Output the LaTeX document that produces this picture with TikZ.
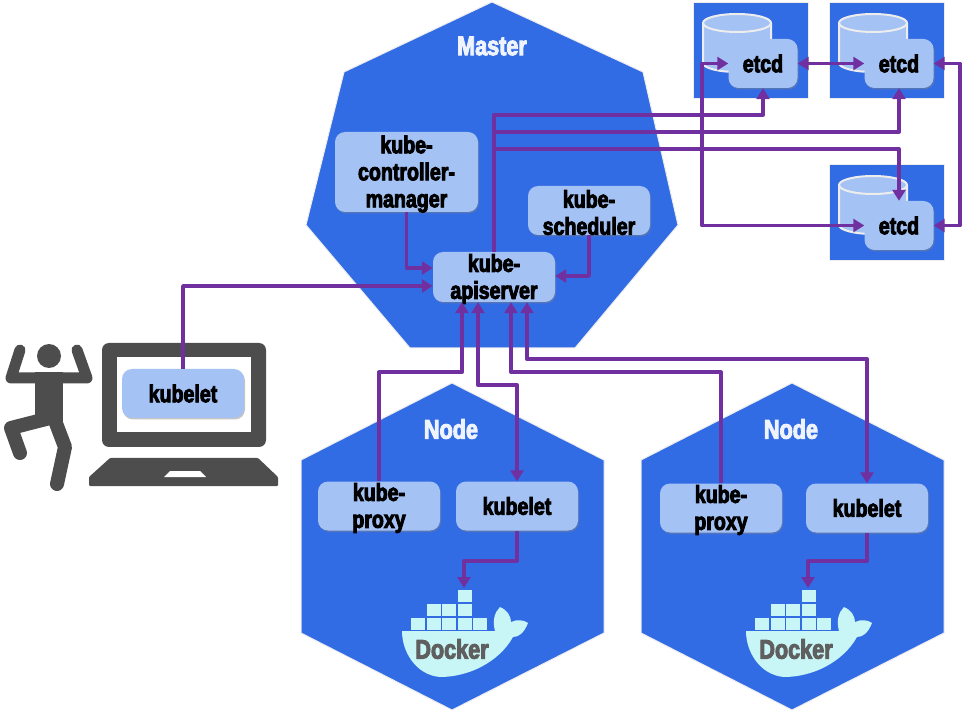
\documentclass[tikz,border=0pt]{standalone}
\usepackage{fontspec}
\usetikzlibrary{arrows.meta,shadows}
\setmainfont{Liberation Sans}[BoldFeatures={FakeStretch=0.8,FakeBold=3.5}]
\definecolor{kubeBlue}{HTML}{326CE5}
\definecolor{boxBlue}{HTML}{A4C2F4}
\definecolor{linkPurple}{HTML}{7030A0}
\definecolor{figGray}{HTML}{4D4D4D}
\definecolor{whaleCyan}{HTML}{C8F5F5}
\tikzset{
  area/.style={fill=kubeBlue,draw=white!93!black,line width=1pt},
  compbox/.style={fill=boxBlue,rounded corners=10pt,minimum width=122pt,minimum height=49pt,inner sep=0pt,
    drop shadow={opacity=.45,shadow xshift=1pt,shadow yshift=-1.5pt}},
  compname/.style={font=\fontsize{24.5}{27}\selectfont\bfseries,align=center,inner sep=0pt},
  multiname/.style={compname,yshift=-2pt},
  areaname/.style={font=\fontsize{27}{28}\selectfont\bfseries,text=white!92!kubeBlue,inner sep=0pt},
  link/.style={draw=linkPurple,line width=3.8pt,line join=round,arrows={-Triangle[length=11pt,width=13pt]}},
  bilink/.style={link,arrows={Triangle[length=11pt,width=13pt]-Triangle[length=11pt,width=13pt]}},
  limb/.style={draw=figGray,line width=11pt,line cap=round,line join=round},
  docker/.pic={
    % Baleine
    \fill[whaleCyan] (-62,41) -- (31,41) .. controls (28,30) and (31,22) .. (36,17)
      .. controls (43,20) and (47,26) .. (47,32) .. controls (53,29) and (60,30) .. (64,33)
      .. controls (60,43) and (55,47) .. (49,47) .. controls (35,72) and (5,87) .. (-24,87)
      .. controls (-48,85) and (-62,62) .. (-62,41) -- cycle;
    % Conteneurs
    \foreach \bx/\by in {-6/0,-37/14,-22/14,-6/14,-53/28,-37/28,-22/28,-6/28,9/28}
      \fill[whaleCyan] (\bx,\by) rectangle +(13.5,12);
    \coordinate (-top) at (0,-2);
    \node[font=\fontsize{27}{28}\selectfont\bfseries,text=figGray!90!white,inner sep=0pt] (-name) at (-12,59) {Docker};
  },
  database/.pic={
    \draw[fill=boxBlue,draw=white!93!black,line width=2pt] (-34,0) -- (-34,40) arc[start angle=180,end angle=0,x radius=34,y radius=9]
      -- (34,0) arc[start angle=0,end angle=-180,x radius=34,y radius=9] -- cycle;
    \draw[draw=white!93!black,line width=2pt] (-34,0) arc[start angle=180,end angle=0,x radius=34,y radius=9];
  },
}
\begin{document}
\begin{tikzpicture}[x=1pt,y=-1pt]
  \useasboundingbox (0,0) rectangle (962,711);

  % Master
  \fill[area] (492,2) -- (643,72) -- (678,225) -- (575,348) -- (410,348) -- (306,225) -- (344,72) -- cycle;
  \node[areaname] (masterName) at (492,46) {Master};

  % Nodes
  \foreach \xNode/\nodeId in {452/L,792/R}
  {
    \fill[area] (\xNode,383) -- ++(152,77) -- ++(0,173) -- ++(-152,77) -- ++(-151,-77) -- ++(0,-173) -- cycle;
    \node[areaname] (nodeName\nodeId) at (\xNode-1,429) {Node};
  }

  % etcd
  \foreach \xEtcd/\yEtcd/\etcdId in {693/3/A,829/3/B,829/165/C}
  {
    \fill[area] (\xEtcd,\yEtcd) rectangle +(115,95.5);
    \pic at (\xEtcd+44,\yEtcd+20) {database};
    \node[compbox,minimum width=69pt] (etcd\etcdId) at (\xEtcd+70,\yEtcd+60.5) {};
    \node[compname] (etcdName\etcdId) at (etcd\etcdId) {etcd};
  }

  % Composants
  \node[compbox,minimum width=143pt,minimum height=80pt] (ctrl) at (406.5,172) {};
  \node[multiname] (ctrlName) at (ctrl) {kube-\\controller-\\manager};
  \node[compbox] (sched) at (589,210.5) {};
  \node[multiname] (schedName) at (sched) {kube-\\scheduler};
  \node[compbox,minimum height=50pt] (api) at (494,277) {};
  \node[multiname] (apiName) at (api) {kube-\\apiserver};
  \node[compbox] (proxyL) at (379,506) {};
  \node[multiname] (proxyLName) at (proxyL) {kube-\\proxy};
  \node[compbox] (kubeletL) at (517,506) {};
  \node[compname] (kubeletLName) at (kubeletL) {kubelet};
  \node[compbox] (proxyR) at (721,508) {};
  \node[multiname] (proxyRName) at (proxyR) {kube-\\proxy};
  \node[compbox] (kubeletR) at (867,508) {};
  \node[compname] (kubeletRName) at (kubeletR) {kubelet};

  % Docker
  \pic (dockL) at (464,590) {docker};
  \pic (dockR) at (808,590) {docker};

  % Personne
  \fill[figGray] (49,356) circle (12);
  \fill[figGray] (35,372) rectangle (63,425);
  \draw[limb] (20,350) -- (11,378) -- (87,378) -- (77,350);
  \draw[limb,line width=14pt] (50,418) -- (11,428) -- (20,453);
  \draw[limb,line width=14pt] (54,418) -- (65,447) -- (57,484);

  % Portable
  \fill[figGray,rounded corners=7pt] (102,343) rectangle (266,447);
  \fill[white] (117,357) rectangle (251,432);
  \fill[figGray,rounded corners=1pt] (89,477) -- (110,458) -- (258,458) -- (278,477) -- (278,486) -- (89,486) -- cycle;
  \fill[white] (164,477) -- (170,471) -- (200,471) -- (206,477) -- cycle;
  \node[compbox] (kubeletM) at (183,393.5) {};
  \node[compname] (kubeletMName) at (kubeletM) {kubelet};

  % Points d'arrivee sous l'apiserver
  \foreach \apiId/\xApi in {1/462,2/478,3/511,4/527}
    \coordinate (apiS\apiId) at (api.south -| \xApi,0);

  % Liaisons
  \draw[link] (ctrl.south) |- (api.west |- 0,268);
  \draw[link] (sched.south) |- (api.east |- 0,276);
  \draw[link] (kubeletM.north) |- (api.west |- 0,286);
  \draw[link] (api.north) -- ++(0,-137) -| (etcdA.south);
  \draw[link] (api.north) -- ++(0,-120) -| (etcdB.south);
  \draw[link] (api.north) -- ++(0,-103) -| (etcdC.north);
  \draw[bilink] (etcdA.east) -- (etcdB.west);
  \draw[bilink] (etcdA.west) -- ++(-26,0) |- (etcdC.west);
  \draw[bilink] (etcdB.east) -- ++(26,0) |- (etcdC.east);
  \draw[link] (proxyL.north) -- ++(0,-109) -| (apiS1);
  \draw[bilink] (apiS2) -- ++(0,83) -| (kubeletL.north);
  \draw[link] (proxyR.north) -- ++(0,-111) -| (apiS3);
  \draw[bilink] (apiS4) -- ++(0,57) -| (kubeletR.north);
  \draw[link] (kubeletL.south) -- ++(0,30) -| (dockL-top);
  \draw[link] (kubeletR.south) -- ++(0,28) -| (dockR-top);
\end{tikzpicture}
\end{document}
